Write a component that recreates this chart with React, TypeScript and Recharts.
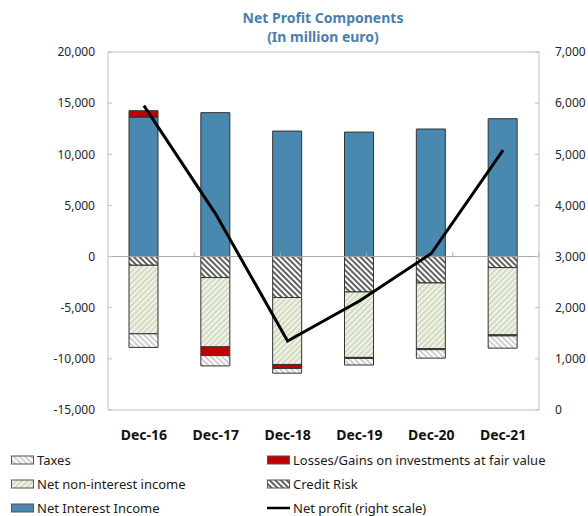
import {
  Bar,
  ComposedChart,
  Line,
  ReferenceLine,
  XAxis,
  YAxis,
} from 'recharts'

const categories = ['Dec-16', 'Dec-17', 'Dec-18', 'Dec-19', 'Dec-20', 'Dec-21']
const netInterestIncome = [13640, 14070, 12270, 12170, 12470, 13480]
const lossesGains = [620, -850, -390, -100, -100, -100]
const creditRisk = [-850, -2050, -4000, -3460, -2580, -1075]
const netNonInterestIncome = [-6700, -6780, -6550, -6400, -6420, -6580]
const taxes = [-1330, -1010, -460, -640, -830, -1200]
const netProfit = [5950, 3830, 1350, 2130, 3060, 5080]

const leftTicks = [-15000, -10000, -5000, 0, 5000, 10000, 15000, 20000]
const rightTicks = [0, 1000, 2000, 3000, 4000, 5000, 6000, 7000]
const boundaries = [1, 2, 3, 4, 5]

const data = categories.map((cat, i) => ({
  cat,
  nii: netInterestIncome[i],
  losses: lossesGains[i],
  credit: creditRisk[i],
  nni: netNonInterestIncome[i],
  taxes: taxes[i],
  profit: netProfit[i],
}))

const FONT = '"Noto Sans", "Open Sans", sans-serif'
const AXIS_GREY = '#BFBFBF'
const BLUE = '#4A89AF'
const RED = '#C00000'
const EDGE = '#333333'

const fmt = (v: number) => v.toLocaleString('en-US')

function Patterns() {
  return (
    <svg width={0} height={0} style={{ position: 'absolute' }}>
      <defs>
        <pattern id="pTaxes" patternUnits="userSpaceOnUse" width={4} height={4} patternTransform="rotate(-45)">
          <rect width={4} height={4} fill="#ffffff" />
          <line x1={1} y1={0} x2={1} y2={4} stroke="#c4c4c4" strokeWidth={1.6} />
        </pattern>
        <pattern id="pCredit" patternUnits="userSpaceOnUse" width={4} height={4} patternTransform="rotate(-45)">
          <rect width={4} height={4} fill="#ffffff" />
          <line x1={1} y1={0} x2={1} y2={4} stroke="#3a3a3a" strokeWidth={1.6} />
        </pattern>
        <pattern id="pNni" patternUnits="userSpaceOnUse" width={4} height={4} patternTransform="rotate(45)">
          <rect width={4} height={4} fill="#eef5e1" />
          <line x1={1} y1={0} x2={1} y2={4} stroke="#c3cbb8" strokeWidth={1.3} />
        </pattern>
      </defs>
    </svg>
  )
}

type Item = { label: string; kind: 'box' | 'line'; fill?: string }

const legendLeft: Item[] = [
  { label: 'Taxes', kind: 'box', fill: 'url(#pTaxes)' },
  { label: 'Net non-interest income', kind: 'box', fill: 'url(#pNni)' },
  { label: 'Net Interest Income', kind: 'box', fill: BLUE },
]
const legendRight: Item[] = [
  { label: 'Losses/Gains on investments at fair value', kind: 'box', fill: RED },
  { label: 'Credit Risk', kind: 'box', fill: 'url(#pCredit)' },
  { label: 'Net profit (right scale)', kind: 'line' },
]

function LegendCol({ items, left }: { items: Item[]; left: number }) {
  return (
    <div style={{ position: 'absolute', left, top: 448 }}>
      {items.map((it) => (
        <div key={it.label} style={{ display: 'flex', alignItems: 'center', height: 24 }}>
          <svg width={24} height={10} style={{ marginRight: 2 }}>
            {it.kind === 'box' ? (
              <rect x={0.5} y={1} width={22} height={8} fill={it.fill} stroke="#555" strokeWidth={1} />
            ) : (
              <line x1={0} y1={5} x2={23} y2={5} stroke="#000" strokeWidth={2.5} />
            )}
          </svg>
          <span style={{ fontSize: 13, lineHeight: '16px', color: '#1a1a1a', whiteSpace: 'nowrap' }}>{it.label}</span>
        </div>
      ))}
    </div>
  )
}

export default function App() {
  return (
    <div style={{ position: 'absolute', left: 0, top: 0, width: 588, height: 516, fontFamily: FONT, background: '#fff' }}>
      <Patterns />
      <div
        style={{
          position: 'absolute',
          left: 223,
          width: 200,
          top: 8,
          textAlign: 'center',
          color: '#4A7EB0',
          fontWeight: 700,
          fontSize: 14,
          lineHeight: '19px',
        }}
      >
        Net Profit Components
        <br />
        (In million euro)
      </div>
      <ComposedChart
        width={588}
        height={450}
        data={data}
        stackOffset="sign"
        barSize={29}
        margin={{ top: 52, right: 0, left: 0, bottom: 0 }}
      >
        <XAxis
          dataKey="cat"
          height={40}
          stroke={AXIS_GREY}
          tickLine={false}
          tickSize={0}
          tickMargin={20}
          tick={{ fill: '#111', fontSize: 14, fontWeight: 700 }}
        />
        <XAxis xAxisId="n" type="number" domain={[0, 6]} hide />
        <YAxis
          yAxisId="left"
          width={108}
          domain={[-15000, 20000]}
          ticks={leftTicks}
          tickFormatter={fmt}
          stroke={AXIS_GREY}
          tickSize={-4}
          tickMargin={17}
          tick={{ fill: '#262626', fontSize: 12 }}
          interval={0}
        />
        <YAxis
          yAxisId="right"
          orientation="right"
          width={49}
          domain={[0, 7000]}
          ticks={rightTicks}
          tickFormatter={fmt}
          stroke={AXIS_GREY}
          tickSize={-4}
          tickMargin={20}
          tick={{ fill: '#262626', fontSize: 12 }}
          interval={0}
        />
        <ReferenceLine yAxisId="left" y={20000} stroke={AXIS_GREY} />
        <ReferenceLine yAxisId="left" y={0} stroke="#A6A6A6" />
        {boundaries.map((b) => (
          <ReferenceLine
            key={b}
            xAxisId="n"
            yAxisId="left"
            segment={[
              { x: b, y: 0 },
              { x: b, y: 400 },
            ]}
            stroke="#A6A6A6"
          />
        ))}
        <Bar yAxisId="left" dataKey="nii" stackId="s" fill={BLUE} stroke={EDGE} isAnimationActive={false} />
        <Bar yAxisId="left" dataKey="credit" stackId="s" fill="url(#pCredit)" stroke={EDGE} isAnimationActive={false} />
        <Bar yAxisId="left" dataKey="nni" stackId="s" fill="url(#pNni)" stroke={EDGE} isAnimationActive={false} />
        <Bar yAxisId="left" dataKey="losses" stackId="s" fill={RED} stroke={EDGE} isAnimationActive={false} />
        <Bar yAxisId="left" dataKey="taxes" stackId="s" fill="url(#pTaxes)" stroke={EDGE} isAnimationActive={false} />
        <Line
          yAxisId="right"
          dataKey="profit"
          type="linear"
          stroke="#000"
          strokeWidth={3}
          dot={false}
          isAnimationActive={false}
        />
      </ComposedChart>
      <LegendCol items={legendLeft} left={11} />
      <LegendCol items={legendRight} left={267} />
    </div>
  )
}
